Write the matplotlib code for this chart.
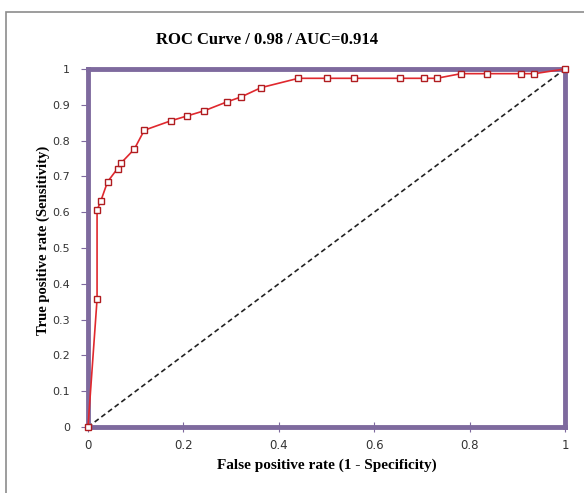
import matplotlib.pyplot as plt
from matplotlib.patches import Rectangle

# ROC points
fpr = [0.0, 0.019, 0.019, 0.027, 0.041, 0.062, 0.069, 0.097, 0.118, 0.173,
       0.208, 0.243, 0.291, 0.321, 0.363, 0.441, 0.502, 0.558, 0.654, 0.704,
       0.731, 0.782, 0.837, 0.907, 0.936, 1.0]
tpr = [0.0, 0.357, 0.606, 0.632, 0.685, 0.722, 0.737, 0.776, 0.829, 0.855,
       0.869, 0.883, 0.908, 0.922, 0.948, 0.974, 0.974, 0.974, 0.974, 0.974,
       0.974, 0.987, 0.987, 0.987, 0.987, 1.0]
ticks = [0, 0.1, 0.2, 0.3, 0.4, 0.5, 0.6, 0.7, 0.8, 0.9, 1]
xticks = [0, 0.2, 0.4, 0.6, 0.8, 1]

fig = plt.figure(figsize=(5.84, 4.93), dpi=100)
fig.patches.append(Rectangle((6 / 584, -0.1), 1.2, 1 - 12 / 493 + 0.1,
                             transform=fig.transFigure, fill=False,
                             edgecolor='#8c8c8c', linewidth=1.2))

ax = fig.add_axes([88 / 584, 1 - 427 / 493, 477 / 584, 358 / 493])

# chance line
ax.plot([0, 1], [0, 1], linestyle=(0, (3, 2)), color='#222222', linewidth=1.2)
ax.plot(fpr, tpr, color='#e0282e', linewidth=1.2, marker='s', markersize=5,
        markerfacecolor='white', markeredgecolor='#b01c20', markeredgewidth=1,
        clip_on=False, zorder=5)

ax.set_xlim(0, 1)
ax.set_ylim(0, 1)
ax.set_xticks(xticks)
ax.set_xticklabels(['0', '0.2', '0.4', '0.6', '0.8', '1'])
ax.set_yticks(ticks)
ax.set_yticklabels(['0', '0.1', '0.2', '0.3', '0.4', '0.5', '0.6', '0.7',
                    '0.8', '0.9', '1'])
for s in ax.spines.values():
    s.set_color('#7e6a9e')
    s.set_linewidth(3.5)
ax.tick_params(axis='y', direction='out', length=5, color='#7e6a9e',
               labelsize=8, labelcolor='#333333', pad=8)
ax.tick_params(axis='x', direction='inout', length=7, color='#7e6a9e',
               labelsize=8.5, labelcolor='#333333', pad=5)

serif = ['Liberation Serif', 'DejaVu Serif']
fig.text(267 / 584, 1 - 40 / 493, 'ROC Curve / 0.98 / AUC=0.914', family=serif,
         fontweight='bold', fontsize=12, ha='center', va='center')
ax.set_xlabel('False positive rate (1 - Specificity)', family=serif,
              fontweight='bold', fontsize=11, labelpad=5)
ax.set_ylabel('True positive rate (Sensitivity)', family=serif,
              fontweight='bold', fontsize=10.5)
ax.yaxis.set_label_coords(-0.08, 0.52)

plt.savefig('out.png', dpi=100)
